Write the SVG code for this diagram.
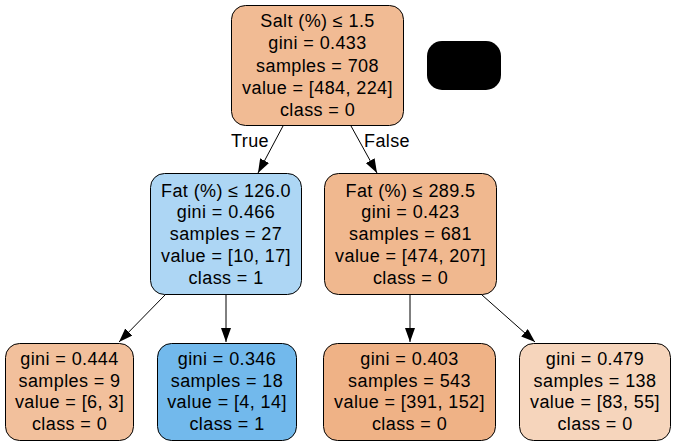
<svg xmlns="http://www.w3.org/2000/svg" width="675" height="447" viewBox="0 0 675 447">
<style>
.n{stroke:#000;stroke-width:1}
text{font-family:"Liberation Sans",Arial,sans-serif;font-size:18px;letter-spacing:0.4px;text-anchor:middle;fill:#000}
.e{stroke:#000;stroke-width:1;fill:none;marker-end:url(#ah)}
</style>
<defs>
<marker id="ah" viewBox="0 0 14 10" refX="14" refY="5" markerWidth="14" markerHeight="10" markerUnits="userSpaceOnUse" orient="auto">
<path d="M0,0 L14,5 L0,10 Z" fill="#000"/>
</marker>
</defs>
<rect width="675" height="447" fill="#fff"/>
<g id="connectors">
<line class="e" x1="283" y1="126" x2="258" y2="173"/>
<line class="e" x1="351" y1="126" x2="377" y2="173"/>
<line class="e" x1="165" y1="295" x2="119" y2="342"/>
<line class="e" x1="226" y1="295" x2="226" y2="342"/>
<line class="e" x1="410" y1="295" x2="410" y2="342"/>
<line class="e" x1="482" y1="295" x2="535" y2="342"/>
<text x="250" y="147">True</text>
<text x="387" y="147">False</text>
</g>
<g id="node0">
<rect class="n" x="231.5" y="5.5" width="172" height="120" rx="14" fill="#f1bb94"/>
<text x="317.5" y="27">Salt (%) ≤ 1.5</text>
<text x="317.5" y="49">gini = 0.433</text>
<text x="317.5" y="72">samples = 708</text>
<text x="317.5" y="94">value = [484, 224]</text>
<text x="317.5" y="116">class = 0</text>
</g>
<g id="nodeX">
<rect x="427" y="41" width="74" height="49" rx="15" fill="#000"/>
</g>
<g id="node1">
<rect class="n" x="150.5" y="173.5" width="151" height="121" rx="14" fill="#add6f4"/>
<text x="226" y="197">Fat (%) ≤ 126.0</text>
<text x="226" y="218">gini = 0.466</text>
<text x="226" y="240">samples = 27</text>
<text x="226" y="262">value = [10, 17]</text>
<text x="226" y="284">class = 1</text>
</g>
<g id="node4">
<rect class="n" x="324.5" y="173.5" width="172" height="121" rx="14" fill="#f0b88f"/>
<text x="410.5" y="197">Fat (%) ≤ 289.5</text>
<text x="410.5" y="218">gini = 0.423</text>
<text x="410.5" y="240">samples = 681</text>
<text x="410.5" y="262">value = [474, 207]</text>
<text x="410.5" y="284">class = 0</text>
</g>
<g id="node2">
<rect class="n" x="5.5" y="343.5" width="128" height="97" rx="14" fill="#f2c09c"/>
<text x="69.5" y="365">gini = 0.444</text>
<text x="69.5" y="387">samples = 9</text>
<text x="69.5" y="408">value = [6, 3]</text>
<text x="69.5" y="430">class = 0</text>
</g>
<g id="node3">
<rect class="n" x="157.5" y="343.5" width="139" height="97" rx="14" fill="#72b9ec"/>
<text x="227" y="365">gini = 0.346</text>
<text x="227" y="387">samples = 18</text>
<text x="227" y="408">value = [4, 14]</text>
<text x="227" y="430">class = 1</text>
</g>
<g id="node5">
<rect class="n" x="323.5" y="343.5" width="172" height="97" rx="14" fill="#efb286"/>
<text x="409.5" y="365">gini = 0.403</text>
<text x="409.5" y="387">samples = 543</text>
<text x="409.5" y="408">value = [391, 152]</text>
<text x="409.5" y="430">class = 0</text>
</g>
<g id="node6">
<rect class="n" x="519.5" y="343.5" width="151" height="97" rx="14" fill="#f6d5bc"/>
<text x="595" y="365">gini = 0.479</text>
<text x="595" y="387">samples = 138</text>
<text x="595" y="408">value = [83, 55]</text>
<text x="595" y="430">class = 0</text>
</g>
</svg>
